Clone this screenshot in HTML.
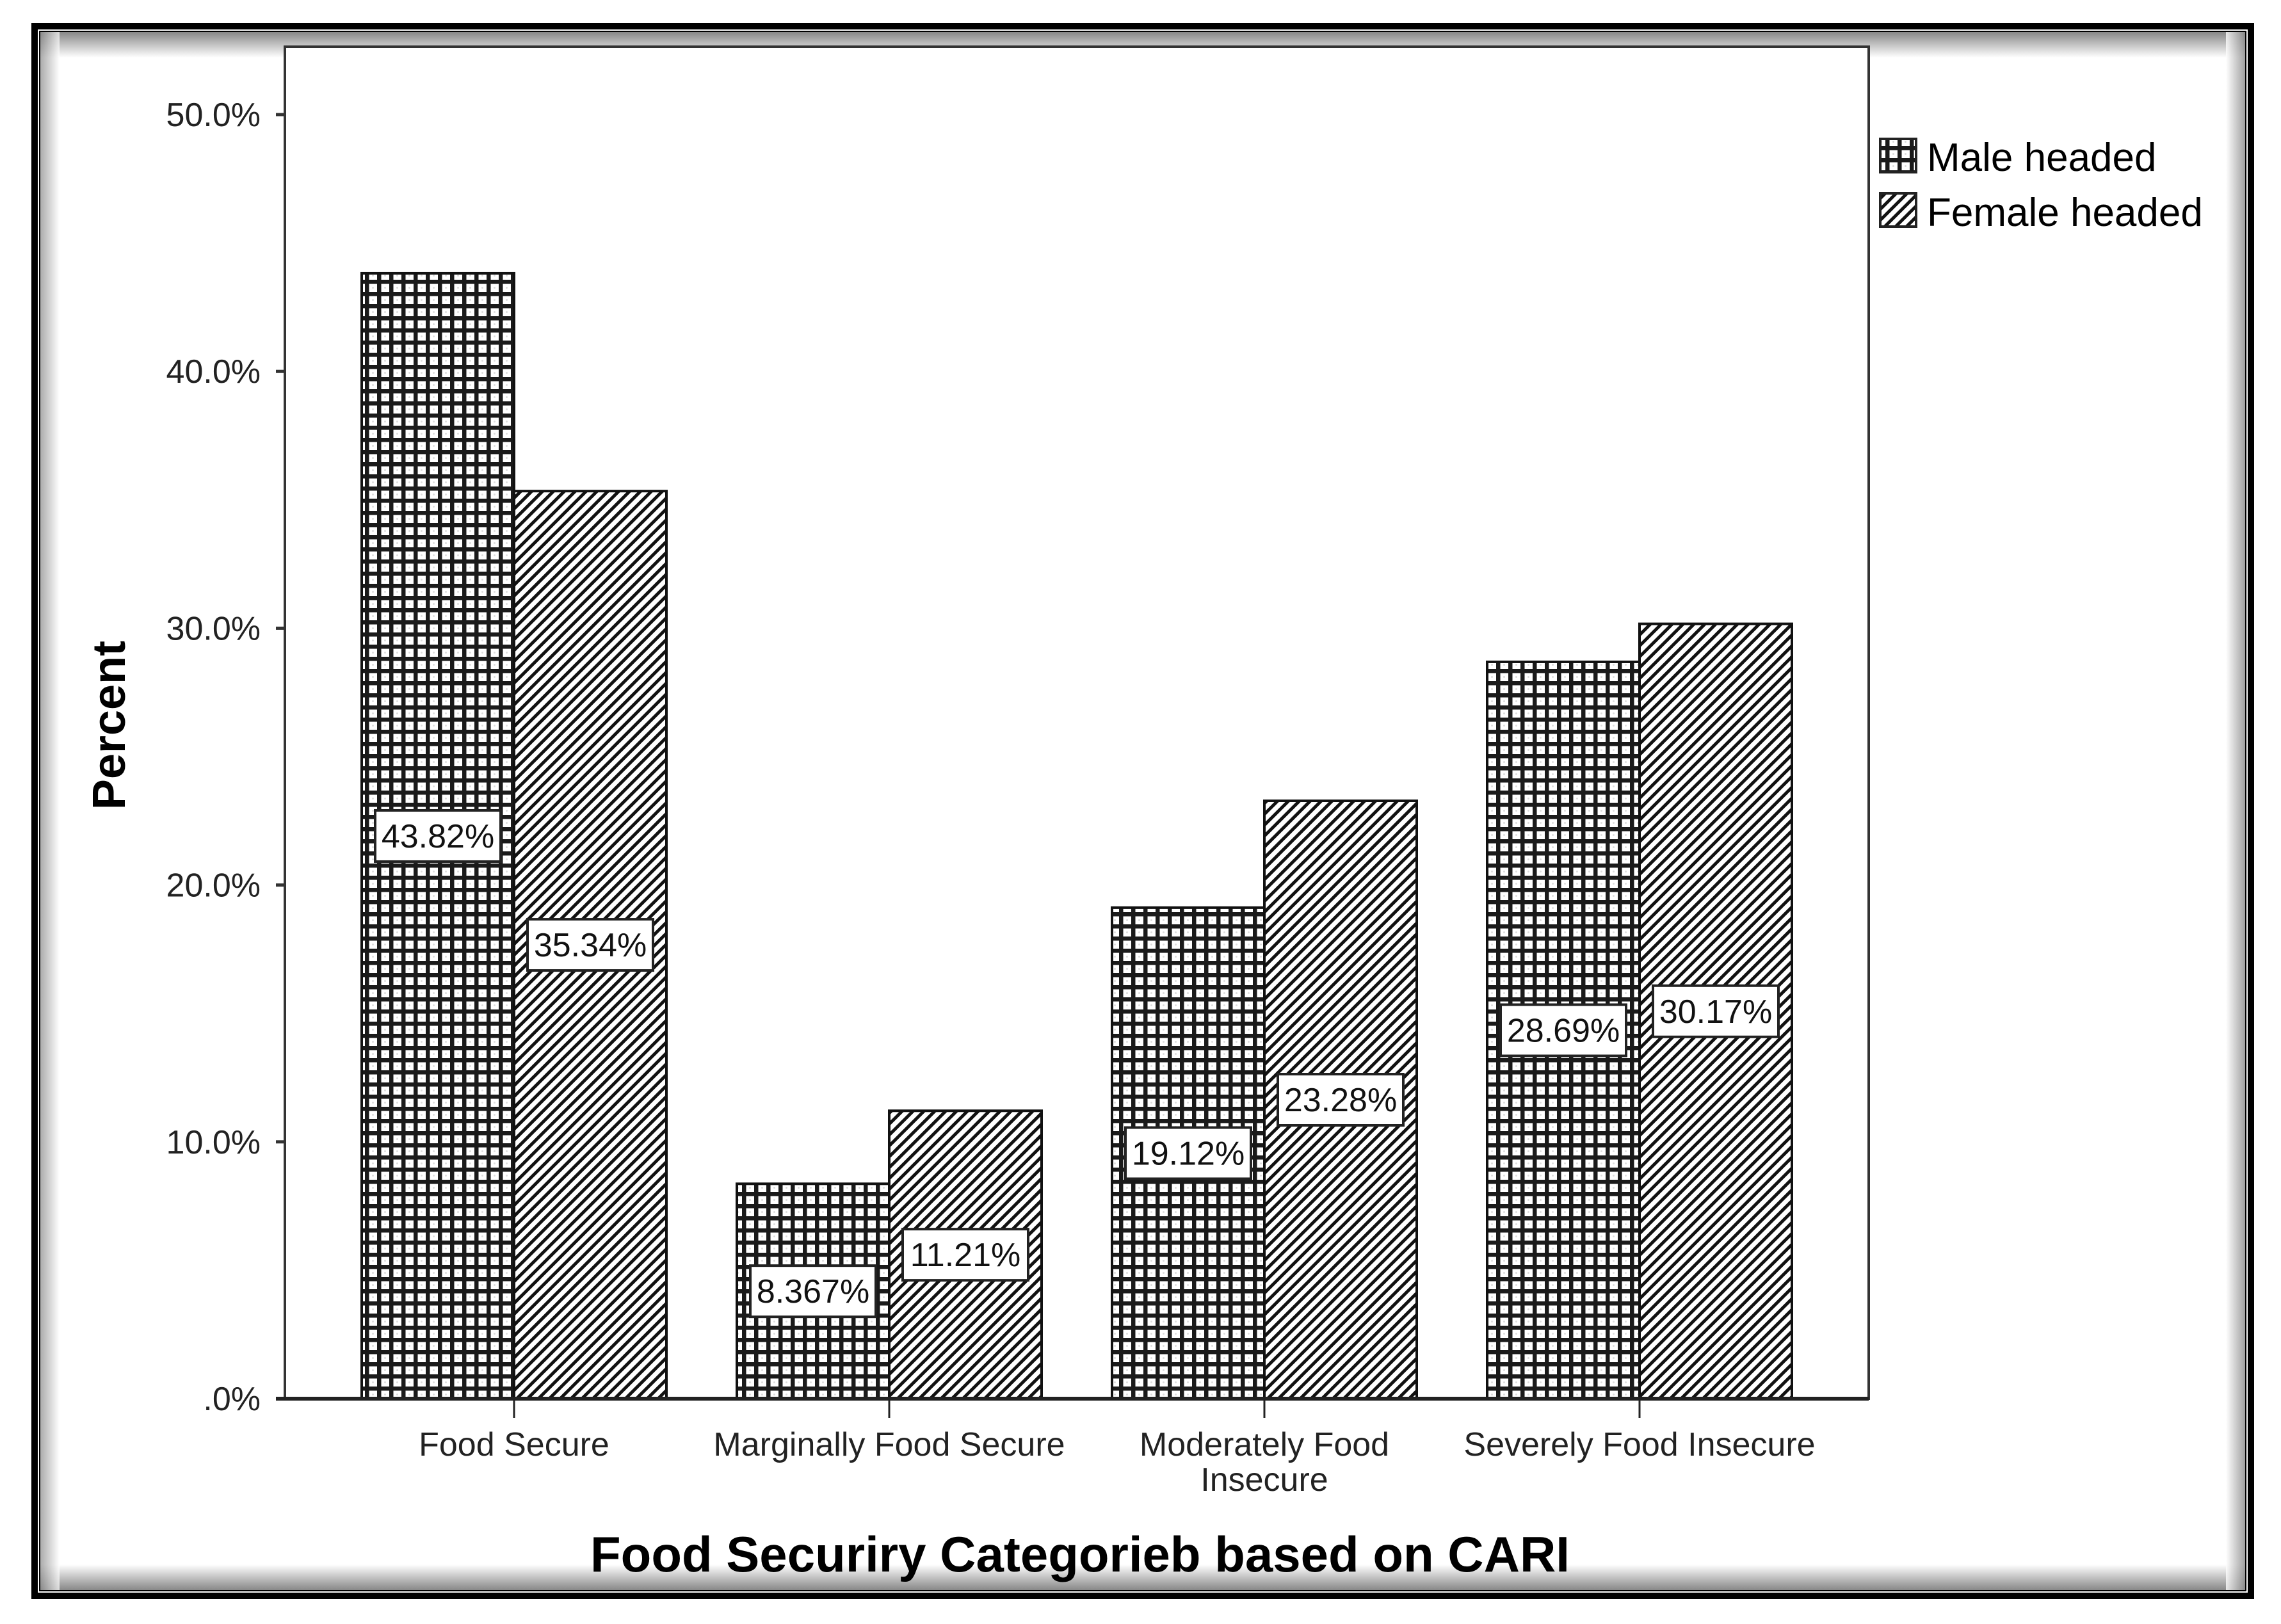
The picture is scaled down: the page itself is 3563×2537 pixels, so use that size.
<!DOCTYPE html>
<html><head><meta charset="utf-8"><style>
html,body{margin:0;padding:0;background:#fff;}
svg{display:block;font-family:"Liberation Sans",Arial,sans-serif;}
</style></head><body>
<svg id="chart" width="3563" height="2537" viewBox="0 0 3563 2537">
<defs>
<pattern id="grid" width="19" height="19" patternUnits="userSpaceOnUse">
<rect width="19" height="19" fill="#fff"/>
<path d="M0,3 H19 M3,0 V19" stroke="#1a1a1a" stroke-width="7"/>
<circle cx="12.5" cy="12.5" r="1.5" fill="#ddd"/>
</pattern>
<pattern id="diag" width="17" height="17" patternUnits="userSpaceOnUse">
<rect width="17" height="17" fill="#fff"/>
<path d="M-4,21 L21,-4 M-4,4 L4,-4 M13,21 L21,13" stroke="#111" stroke-width="5"/>
</pattern>
<linearGradient id="gt" x1="0" y1="0" x2="0" y2="1"><stop offset="0" stop-color="#888"/><stop offset="1" stop-color="#fff"/></linearGradient>
<linearGradient id="gb" x1="0" y1="1" x2="0" y2="0"><stop offset="0" stop-color="#888"/><stop offset="1" stop-color="#fff"/></linearGradient>
<linearGradient id="gl" x1="0" y1="0" x2="1" y2="0"><stop offset="0" stop-color="#888"/><stop offset="1" stop-color="#fff"/></linearGradient>
<linearGradient id="gr" x1="1" y1="0" x2="0" y2="0"><stop offset="0" stop-color="#888"/><stop offset="1" stop-color="#fff"/></linearGradient>
</defs>
<g>
<rect x="54" y="41" width="3462" height="2452" fill="none" stroke="#000" stroke-width="10"/>
<rect x="62" y="49" width="3446" height="2436" fill="none" stroke="#000" stroke-width="2"/>
<rect x="63" y="50" width="3444" height="40" fill="url(#gt)"/>
<rect x="63" y="2444" width="3444" height="40" fill="url(#gb)"/>
<rect x="63" y="50" width="30" height="2434" fill="url(#gl)" opacity="0.7"/>
<rect x="3477" y="50" width="30" height="2434" fill="url(#gr)" opacity="0.8"/>
</g>
<rect x="445" y="73" width="2474" height="2112" fill="#fff" stroke="#333" stroke-width="4"/>
<g id="yaxis"></g>
<g id="bars"></g>
<g id="xaxis"></g>
<text x="176" y="1133" transform="rotate(-90 176 1133)" text-anchor="middle" dominant-baseline="middle" font-size="72" font-weight="bold">Percent</text>
<text x="1687" y="2455" text-anchor="middle" font-size="78" font-weight="bold">Food Securiry Categorieb based on CARI</text>
<g>
<g>
<rect x="2937" y="217" width="56" height="52" fill="url(#grid)" stroke="#222" stroke-width="4"/>
<text x="3010" y="267" font-size="62">Male headed</text>
</g>
<g>
<rect x="2937" y="302" width="56" height="52" fill="url(#diag)" stroke="#222" stroke-width="4"/>
<text x="3010" y="353" font-size="62">Female headed</text>
</g>
</g>
</svg>
<script>
const categories = [["Food Secure"], ["Marginally Food Secure"], ["Moderately Food", "Insecure"], ["Severely Food Insecure"]];
const maleValues = [43.82, 8.367, 19.12, 28.69];
const femaleValues = [35.34, 11.21, 23.28, 30.17];
const maleLabels = ["43.82%", "8.367%", "19.12%", "28.69%"];
const femaleLabels = ["35.34%", "11.21%", "23.28%", "30.17%"];
const yTicks = [0, 10, 20, 30, 40, 50];
const yTickLabels = [".0%", "10.0%", "20.0%", "30.0%", "40.0%", "50.0%"];

const NS = "http://www.w3.org/2000/svg";
const plotL = 445, plotR = 2919, base = 2185, pxPer = 40.12;
const y = v => base - v * pxPer;
const xc = i => 803 + i * 586;
const bw = 238;
function mk(tag, attrs, parent) {
  const e = document.createElementNS(NS, tag);
  for (const k in attrs) e.setAttribute(k, attrs[k]);
  parent.appendChild(e);
  return e;
}
const yax = document.getElementById('yaxis');
yTicks.forEach((t, i) => {
  const l = mk('line', {x1: plotL - 14, x2: plotL, y1: y(t), y2: y(t), stroke: '#333', 'stroke-width': 5}, yax);
  
  
  const tx = mk('text', {x: plotL - 38, y: y(t) + 18, 'text-anchor': 'end', 'font-size': 52, fill: '#222'}, yax);
  tx.textContent = yTickLabels[i];
  
  
});
const bars = document.getElementById('bars');
function bar(x, v, fill, label, name) {
  const r = mk('rect', {x: x, y: y(v), width: bw, height: base - y(v), fill: fill, stroke: '#111', 'stroke-width': 4}, bars);
  
  
  const cy = (y(v) + base) / 2, cx = x + bw / 2;
  const b = mk('rect', {x: cx - 98, y: cy - 40, width: 196, height: 80, fill: '#fff', stroke: '#222', 'stroke-width': 4}, bars);
  
  
  const t = mk('text', {x: cx, y: cy + 18, 'text-anchor': 'middle', 'font-size': 52, fill: '#111'}, bars);
  t.textContent = label;
  
  
}
categories.forEach((c, i) => {
  bar(xc(i) - bw, maleValues[i], 'url(#grid)', maleLabels[i], 'bar-male-' + i);
  bar(xc(i), femaleValues[i], 'url(#diag)', femaleLabels[i], 'bar-female-' + i);
});
const xax = document.getElementById('xaxis');
const bl = mk('line', {x1: plotL - 14, x2: plotR, y1: base, y2: base, stroke: '#222', 'stroke-width': 6}, xax);


categories.forEach((c, i) => {
  const tk = mk('line', {x1: xc(i), x2: xc(i), y1: base, y2: base + 30, stroke: '#222', 'stroke-width': 3}, xax);
  
  
  c.forEach((line, j) => {
    const t = mk('text', {x: xc(i), y: 2274 + j * 55, 'text-anchor': 'middle', 'font-size': 52, fill: '#222'}, xax);
    t.textContent = line;
    
    
  });
});
</script>
</body></html>
